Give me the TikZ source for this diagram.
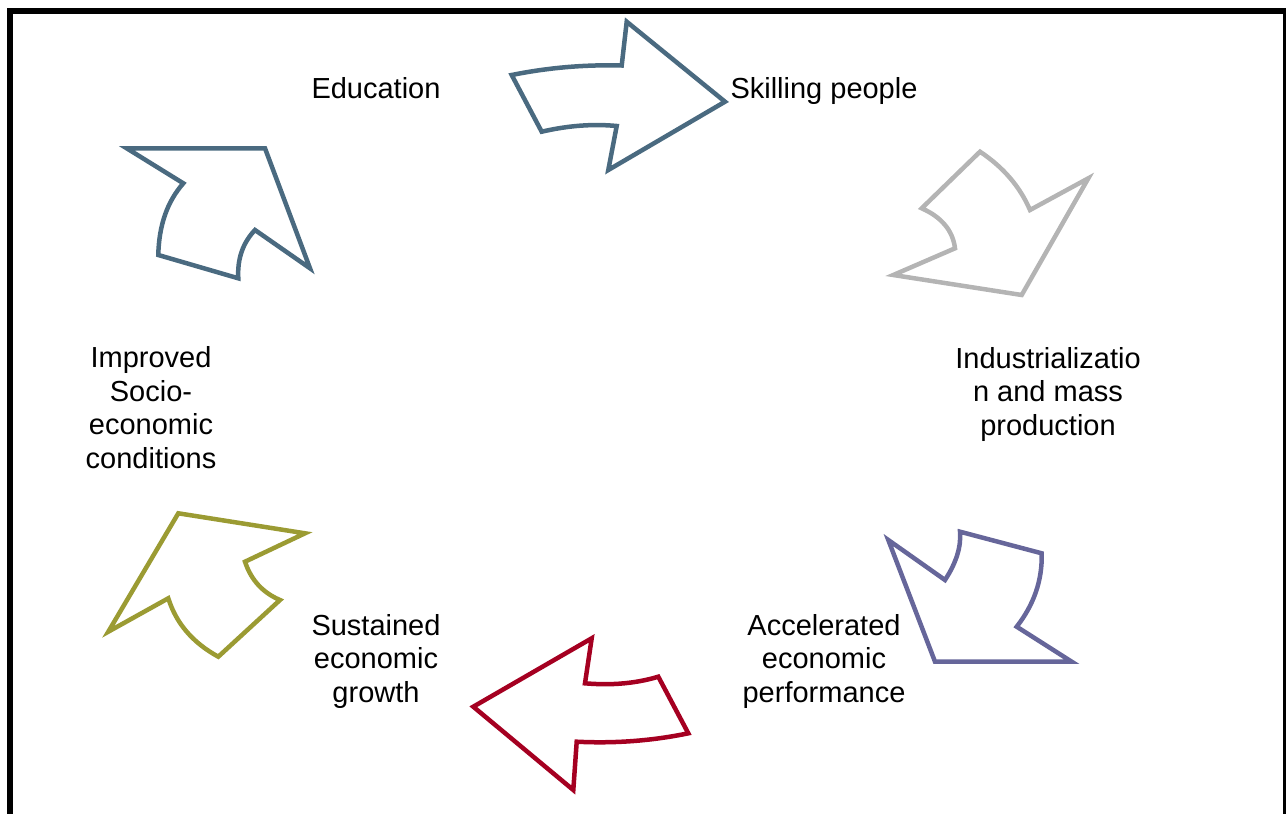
\documentclass[tikz,border=0pt]{standalone}
\usepackage{fontspec}
\setmainfont{Liberation Sans}
\definecolor{slate}{HTML}{4A6A80}
\definecolor{grayarr}{HTML}{B4B4B4}
\definecolor{purplearr}{HTML}{66669A}
\definecolor{crimson}{HTML}{A50021}
\definecolor{olive}{HTML}{9B9B33}
\begin{document}
\begin{tikzpicture}[x=1pt,y=-1pt,
  arr/.style={line width=4.5pt,line join=miter},
  lbl/.style={font=\fontsize{29}{33.7}\selectfont,align=center,inner sep=0pt,anchor=base}]
\useasboundingbox (0,0) rectangle (1286,814);
\begin{scope}
\clip (0,0) rectangle (1286,814);
\draw[line width=6pt] (10,900) -- (10,11) -- (1286,11) -- (1286,900);
\end{scope}
% arrows
\draw[arr,slate] (511.7,75) .. controls (547.9,67.7) and (584.6,64.5) .. (621.7,65.5) -- (626.7,21.7) -- (725,101.7) -- (608.3,170) -- (616.7,126) .. controls (592.9,123.7) and (567.9,125.6) .. (541.7,131.7) -- cycle;
\draw[arr,grayarr] (980,151.7) .. controls (1003.3,167.2) and (1020,186.7) .. (1030,210) -- (1088.3,178.3) -- (1021.7,295) -- (893.3,275) -- (955,248.3) .. controls (952.8,230.6) and (941.7,217.2) .. (921.7,208.3) -- cycle;
\draw[arr,purplearr] (888.3,540) -- (945,580) .. controls (956.3,562.7) and (961.3,546.6) .. (960,531.7) -- (1041.7,553.3) .. controls (1042.4,580) and (1034.1,604.4) .. (1016.7,626.7) -- (1071.7,661.7) -- (935,661.7) -- cycle;
\draw[arr,crimson] (473.3,706.7) -- (591.7,638.3) -- (585,683.3) .. controls (611.7,685.6) and (636.1,683.4) .. (658.3,676.7) -- (688.3,733.3) .. controls (652.1,740.8) and (614.9,743.6) .. (576.7,741.7) -- (573.3,790) -- cycle;
\draw[arr,olive] (178.3,513.3) -- (305,533.3) -- (245,561.7) .. controls (251,579.9) and (262.7,592.7) .. (280,600) -- (218.3,656.7) .. controls (192.8,642.8) and (176.1,623.3) .. (168.3,598.3) -- (108.3,631.7) -- cycle;
\draw[arr,slate] (126.7,148.3) -- (265,148.3) -- (310,268.3) -- (255,230) .. controls (242.8,242.8) and (237.2,258.9) .. (238.3,278.3) -- (158.3,255) .. controls (158.9,225.5) and (167.2,201.6) .. (183.3,183.3) -- cycle;
% labels
\node[lbl] (edu) at (376,98.5) {Education};
\node[lbl] (skill) at (824,98.5) {Skilling people};
\node[lbl] (ind) at (1048,435.5) {Industrializatio\\n and mass\\production};
\node[lbl] (acc) at (824,702.5) {Accelerated\\economic\\performance};
\node[lbl] (sus) at (376,702.5) {Sustained\\economic\\growth};
\node[lbl] (imp) at (151,468.5) {Improved\\Socio-\\economic\\conditions};
\end{tikzpicture}
\end{document}
